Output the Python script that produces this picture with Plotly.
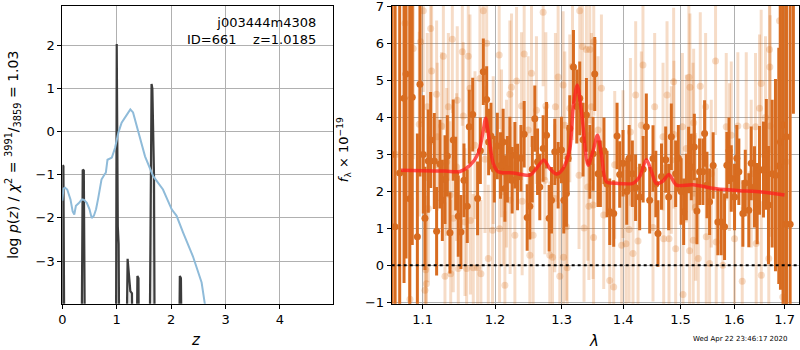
import plotly.graph_objects as go

# ---------------- left panel: redshift PDF ----------------
pz_z = [0.0, 0.005, 0.02, 0.04, 0.35, 0.375, 0.395, 0.42, 0.985, 1.0, 1.02, 1.035, 1.05,
        1.17, 1.20, 1.25, 1.28, 1.30, 1.36, 1.38, 1.40, 1.41, 1.60, 1.64, 1.655, 1.685, 1.70,
        2.14, 2.16, 2.18, 2.20, 5.0]
pz_logp = [-6, -0.78, -0.80, -6, -6, -0.88, -0.90, -6, -6, 2.04, -2.2, -2.6, -6,
           -6, -2.95, -3.70, -3.75, -6, -6, -3.35, -3.40, -6, -6, 1.11, 1.0, -1.0, -6,
           -6, -3.35, -3.40, -6, -6]

chi_z = [0.0, 0.02, 0.05, 0.09, 0.15, 0.19, 0.22, 0.25, 0.30, 0.36, 0.40, 0.45, 0.50, 0.54,
         0.58, 0.62, 0.66, 0.72, 0.78, 0.80, 0.83, 0.88, 0.91, 0.97, 1.03, 1.09, 1.18, 1.25,
         1.30, 1.40, 1.52, 1.67, 1.85, 2.01, 2.10, 2.22, 2.40, 2.56, 2.62, 2.70, 2.80]
chi_logp = [-1.60, -1.32, -1.30, -1.34, -1.57, -1.85, -1.92, -1.72, -1.66, -1.57, -1.58, -1.65,
            -1.80, -2.00, -1.95, -1.80, -1.54, -1.11, -0.98, -0.95, -0.65, -0.62, -0.60, -0.37,
            -0.02, 0.21, 0.40, 0.52, 0.45, -0.02, -0.57, -1.03, -1.34, -1.80, -1.95, -2.34,
            -2.89, -3.50, -3.97, -4.60, -5.50]

# ---------------- right panel: spectrum ----------------
dark_wave = [1.0600, 1.0640, 1.0700, 1.0756, 1.0782, 1.0830, 1.0863, 1.0930, 1.0964, 1.1008,
             1.1030, 1.1074, 1.1106, 1.1155, 1.1186, 1.1231, 1.1263, 1.1299, 1.1331, 1.1367,
             1.1412, 1.1445, 1.1481, 1.1518, 1.1560, 1.1606, 1.1634, 1.1682, 1.1751, 1.1790,
             1.1832, 1.1880, 1.1908, 1.1941, 1.1990, 1.2033, 1.2080, 1.2118, 1.2143, 1.2180,
             1.2216, 1.2250, 1.2290, 1.2329, 1.2380, 1.2428, 1.2473, 1.2513, 1.2550, 1.2588,
             1.2630, 1.2664, 1.2715, 1.2767, 1.2807, 1.2843, 1.2894, 1.2946, 1.2998, 1.3035,
             1.3076, 1.3102, 1.3129, 1.3187, 1.3240, 1.3287, 1.3340, 1.3394, 1.3450, 1.3502,
             1.3529, 1.3583, 1.3621, 1.3680, 1.3730, 1.3775, 1.3841, 1.3897, 1.3941, 1.3997,
             1.4060, 1.4100, 1.4155, 1.4210, 1.4280, 1.4340, 1.4395, 1.4453, 1.4511, 1.4560,
             1.4598, 1.4660, 1.4734, 1.4787, 1.4834, 1.4912, 1.4960, 1.5010, 1.5056, 1.5104,
             1.5146, 1.5195, 1.5250, 1.5298, 1.5347, 1.5409, 1.5440, 1.5484, 1.5533, 1.5600,
             1.5688, 1.5751, 1.5815, 1.5859, 1.5900, 1.5943, 1.6006, 1.6050, 1.6089, 1.6167,
             1.6214, 1.6283, 1.6330, 1.6395, 1.6448, 1.6494, 1.6573, 1.6630, 1.6673, 1.6747,
             1.6814, 1.6881, 1.6915, 1.6970, 1.7031, 1.7037, 1.7113, 1.7180]
dark_flux = [3.00, 1.04, 2.50, 4.52, 5.18, 1.80, 4.55, 0.77, 4.90, 3.00,
             1.27, 2.82, 3.39, 2.82, 0.92, 2.74, 1.76, 2.32, 2.96, 0.88,
             3.39, 2.48, 1.33, 0.90, 2.30, 1.60, 3.75, 4.08, 1.81, 3.10,
             5.24, 4.49, 3.34, 3.50, 2.60, 3.23, 2.70, 3.34, 2.08, 2.60,
             3.12, 2.30, 2.98, 2.39, 2.90, 3.55, 1.29, 1.60, 2.60, 3.97,
             2.80, 2.12, 3.16, 3.52, 1.27, 1.76, 3.07, 2.44, 3.12, 1.76,
             1.94, 2.90, 3.70, 5.37, 4.30, 4.52, 3.40, 4.07, 2.80, 3.02,
             5.18, 2.48, 2.48, 3.10, 2.20, 1.45, 1.40, 3.50, 2.46, 2.76,
             2.00, 2.90, 2.48, 2.10, 1.85, 2.60, 3.75, 1.76, 2.89, 2.20,
             0.86, 2.40, 2.86, 1.85, 3.48, 2.48, 2.90, 2.00, 1.45, 2.12,
             2.85, 2.66, 3.20, 1.47, 2.53, 2.53, 3.57, 2.17, 1.72, 2.70,
             1.17, 1.17, 1.04, 2.71, 3.10, 2.35, 1.85, 2.90, 2.53, 1.40,
             2.23, 1.49, 2.76, 2.12, 1.67, 2.57, 2.59, 3.00, 1.63, 2.48,
             2.44, 2.69, 3.34, 3.80, 1.11, 3.48, 1.11, 9.00]
dark_err = [8.0, 6.0, 7.0, 5.0, 5.0, 5.5, 4.0, 2.8, 2.5, 1.6,
            1.4, 1.4, 1.3, 1.3, 1.2, 1.2, 1.1, 1.2, 1.1, 1.1,
            1.1, 1.0, 1.1, 1.0, 1.0, 1.0, 1.0, 1.0, 1.0, 0.9,
            0.9, 0.9, 0.9, 0.9, 0.9, 0.9, 0.9, 0.9, 0.9, 0.9,
            0.9, 0.9, 0.9, 0.9, 0.9, 0.9, 0.9, 0.9, 0.9, 0.9,
            0.9, 0.9, 0.9, 0.9, 0.9, 0.9, 0.9, 0.9, 0.9, 0.9,
            0.9, 0.9, 0.9, 1.0, 1.0, 1.0, 1.0, 1.0, 1.0, 1.0,
            1.0, 0.9, 0.9, 0.9, 0.9, 0.9, 0.9, 0.9, 0.9, 0.9,
            0.9, 0.9, 0.9, 0.9, 0.9, 0.9, 0.9, 0.9, 0.9, 0.9,
            0.9, 0.9, 0.9, 0.9, 0.9, 0.9, 0.9, 0.9, 0.9, 0.9,
            0.9, 0.9, 0.9, 0.9, 0.9, 0.9, 0.9, 0.9, 0.9, 0.9,
            0.9, 0.9, 0.9, 0.9, 0.9, 0.9, 0.9, 0.9, 0.9, 0.9,
            0.9, 1.0, 1.0, 1.1, 1.1, 1.2, 1.3, 1.5, 1.6, 2.0,
            2.6, 3.2, 4.0, 5.0, 6.0, 6.0, 7.0, 4.9]

light_wave = [1.0650, 1.0769, 1.0833, 1.0876, 1.0955, 1.0973, 1.1008, 1.1030, 1.1040, 1.1050,
              1.1061, 1.1074, 1.1106, 1.1119, 1.1186, 1.1195, 1.1254, 1.1277, 1.1299, 1.1322,
              1.1345, 1.1367, 1.1377, 1.1399, 1.1412, 1.1458, 1.1467, 1.1481, 1.1537, 1.1551,
              1.1574, 1.1597, 1.1620, 1.1644, 1.1650, 1.1690, 1.1714, 1.1751, 1.1784, 1.1798,
              1.1832, 1.1856, 1.1880, 1.1903, 1.1964, 1.1974, 1.2060, 1.2065, 1.2094, 1.2118,
              1.2143, 1.2167, 1.2216, 1.2220, 1.2240, 1.2290, 1.2315, 1.2389, 1.2398, 1.2428,
              1.2488, 1.2513, 1.2538, 1.2563, 1.2613, 1.2715, 1.2741, 1.2756, 1.2817, 1.2859,
              1.2894, 1.2904, 1.2946, 1.2972, 1.3024, 1.3030, 1.3050, 1.3076, 1.3087, 1.3129,
              1.3172, 1.3276, 1.3287, 1.3330, 1.3356, 1.3394, 1.3418, 1.3434, 1.3448, 1.3475,
              1.3502, 1.3510, 1.3513, 1.3583, 1.3638, 1.3676, 1.3775, 1.3841, 1.3858, 1.3974,
              1.3997, 1.4047, 1.4099, 1.4122, 1.4166, 1.4212, 1.4252, 1.4309, 1.4337, 1.4511,
              1.4540, 1.4687, 1.4699, 1.4758, 1.4793, 1.4834, 1.4876, 1.4880, 1.4912, 1.5033,
              1.5044, 1.5104, 1.5151, 1.5164, 1.5170, 1.5226, 1.5230, 1.5238, 1.5274, 1.5323,
              1.5360, 1.5459, 1.5471, 1.5533, 1.5564, 1.5645, 1.5657, 1.5783, 1.5847, 1.5910,
              1.5943, 1.6006, 1.6070, 1.6155, 1.6233, 1.6330, 1.6415, 1.6428, 1.6494, 1.6527,
              1.6530, 1.6613, 1.6679, 1.6693, 1.6700, 1.6707, 1.6895, 1.6963, 1.7031]
light_flux = [3.00, 6.55, -0.92, 5.87, 3.82, 6.05, 6.89, -0.68, -0.12, -0.50,
              4.29, 1.54, 6.41, 5.26, 4.63, 3.48, 3.77, 5.66, -0.30, 2.80,
              4.29, 1.90, -0.23, 6.12, 1.27, 2.66, 4.47, -0.09, 5.78, 4.04,
              1.17, -0.09, 5.66, 4.79, 1.21, -0.07, 3.25, -0.07, 5.06, -0.23,
              6.89, 2.87, 6.01, 0.18, 0.95, 3.12, 5.69, 0.99, 3.30, 1.99,
              -0.54, 2.48, 4.63, 1.76, 4.82, 0.81, 4.99, 4.31, 1.73, 5.72,
              3.66, 0.27, 5.20, 0.81, 4.20, 6.85, 2.30, 4.31, 0.27, 0.22,
              1.81, 4.29, 5.10, -0.30, 4.88, 0.22, 3.79, 1.04, -0.07, 4.25,
              5.39, 2.44, 6.89, 5.92, 1.01, 5.84, 2.12, 1.60, 5.84, 4.29,
              1.63, 0.75, 6.05, 3.66, 4.79, 1.36, -0.41, -0.59, 2.72, 0.54,
              2.74, 0.58, 0.97, 3.61, 0.32, 4.61, 0.66, 3.79, 5.42, 1.02,
              4.29, 3.48, 0.72, 4.61, 0.72, 2.85, 4.97, 3.54, 0.45, 3.75,
              -0.79, 3.16, 5.09, 0.39, 4.82, 3.48, 0.68, 3.86, 1.58, 0.18,
              4.85, 4.29, 0.77, 0.05, 2.48, 5.53, 0.63, 0.00, 3.75, 2.93,
              3.52, 0.72, 3.77, -0.43, 3.77, 2.48, 3.75, 0.59, 4.25, 4.92,
              -0.27, 4.00, 0.18, 5.84, 5.37, 3.77, 6.62, -0.86, 2.80]
light_err = [6.0, 5.0, 4.0, 3.0, 2.5, 2.2, 2.2, 2.0, 2.0, 2.0,
             2.0, 2.0, 2.0, 2.0, 2.0, 2.0, 2.0, 2.0, 2.0, 2.0,
             2.0, 2.0, 2.0, 2.0, 2.0, 2.0, 2.0, 2.0, 2.0, 2.0,
             2.0, 2.0, 2.0, 2.0, 2.0, 2.0, 2.0, 2.0, 2.0, 2.0,
             2.0, 2.0, 2.0, 2.0, 2.0, 2.0, 2.0, 2.0, 2.0, 2.0,
             2.0, 2.0, 2.0, 2.0, 2.0, 2.0, 2.0, 2.0, 2.0, 2.0,
             2.0, 2.0, 2.0, 2.0, 2.0, 2.0, 2.0, 2.0, 2.0, 2.0,
             2.0, 2.0, 2.0, 2.0, 2.0, 2.0, 2.0, 2.0, 2.0, 2.0,
             2.0, 2.0, 2.0, 2.0, 2.0, 2.0, 2.0, 2.0, 2.0, 2.0,
             2.0, 2.0, 2.0, 2.0, 2.0, 2.0, 2.0, 2.0, 2.0, 2.0,
             2.0, 2.0, 2.0, 2.0, 2.0, 2.0, 2.0, 2.0, 2.0, 2.0,
             2.0, 2.0, 2.0, 2.0, 2.0, 2.0, 2.0, 2.0, 2.0, 2.0,
             2.0, 2.0, 2.0, 2.0, 2.0, 2.0, 2.0, 2.0, 2.0, 2.0,
             2.0, 2.0, 2.0, 2.0, 2.0, 2.0, 2.0, 2.0, 2.0, 2.0,
             2.0, 2.0, 2.0, 2.0, 2.0, 2.0, 2.0, 2.0, 2.0, 2.0,
             2.0, 2.2, 2.5, 2.8, 2.8, 3.0, 4.0, 4.0, 5.0]

model_wave = [1.0717, 1.1000, 1.1300, 1.1504, 1.1644, 1.1761, 1.1832, 1.1866, 1.1903, 1.1974,
              1.2046, 1.2265, 1.2513, 1.2613, 1.2725, 1.2817, 1.2920, 1.3024, 1.3129, 1.3182,
              1.3246, 1.3316, 1.3421, 1.3502, 1.3573, 1.3638, 1.3720, 1.3886, 1.4166, 1.4280,
              1.4395, 1.4482, 1.4569, 1.4687, 1.4793, 1.4925, 1.5226, 1.5657, 1.6103, 1.6428,
              1.6997]
model_flux = [2.57, 2.56, 2.55, 2.54, 2.71, 3.03, 3.66, 3.98, 3.57, 2.76,
              2.53, 2.50, 2.44, 2.62, 2.85, 2.62, 2.47, 2.62, 3.15, 4.25,
              4.88, 4.15, 2.71, 3.10, 3.52, 3.00, 2.26, 2.22, 2.22, 2.40,
              2.86, 2.55, 2.21, 2.28, 2.46, 2.17, 2.18, 2.07, 2.02, 2.00,
              1.90]

lam_ticks = [1.1, 1.2, 1.3, 1.4, 1.5, 1.6, 1.7]
lam_ticktext = ["1.1", "1.2", "1.3", "1.4", "1.5", "1.6", "1.7"]

FONT = "DejaVu Sans"
DARK = "#d86c20"
LIGHT = "rgba(213,94,0,0.22)"

fig = go.Figure()

# left panel
fig.add_trace(go.Scatter(x=[0, 5], y=[-10, -10], mode="lines", line=dict(width=0),
                         showlegend=False, hoverinfo="skip", xaxis="x", yaxis="y"))
fig.add_trace(go.Scatter(x=pz_z, y=pz_logp, mode="lines", fill="tonexty",
                         fillcolor="rgba(0,0,0,0.10)",
                         line=dict(color="#3c3c3c", width=2.2), showlegend=False,
                         xaxis="x", yaxis="y"))
fig.add_trace(go.Scatter(x=chi_z, y=chi_logp, mode="lines",
                         line=dict(color="#8fbbd9", width=2), showlegend=False,
                         xaxis="x", yaxis="y"))

# right panel
fig.add_trace(go.Scatter(x=light_wave, y=light_flux, mode="markers",
                         marker=dict(color=LIGHT, size=7),
                         error_y=dict(type="data", array=light_err, color=LIGHT,
                                      thickness=3, width=0),
                         showlegend=False, xaxis="x2", yaxis="y2"))
fig.add_trace(go.Scatter(x=dark_wave, y=dark_flux, mode="markers",
                         marker=dict(color=DARK, size=7),
                         error_y=dict(type="data", array=dark_err, color=DARK,
                                      thickness=3, width=0),
                         showlegend=False, xaxis="x2", yaxis="y2"))
fig.add_trace(go.Scatter(x=model_wave, y=model_flux, mode="lines",
                         line=dict(color="rgba(255,30,30,0.75)", width=3.5,
                                   shape="spline", smoothing=0.8),
                         showlegend=False, xaxis="x2", yaxis="y2"))

fig.add_shape(type="line", xref="x2 domain", yref="y2", x0=0, x1=1, y0=0, y1=0,
              line=dict(color="black", width=2, dash="dot"), layer="above")

axis_common = dict(showline=True, linecolor="black", linewidth=1, mirror=True,
                   ticks="outside", ticklen=4, tickcolor="black", automargin=False,
                   ticklabeloverflow="allow",
                   showgrid=True, gridcolor="#b0b0b0", gridwidth=1, zeroline=False,
                   tickfont=dict(family=FONT, size=13, color="black"))

ydom = [0.1324, 0.9829]
fig.update_layout(
    width=800, height=350, margin=dict(l=0, r=0, t=0, b=0),
    paper_bgcolor="white", plot_bgcolor="white",
    font=dict(family=FONT, size=13, color="black"),
    xaxis=dict(domain=[0.0779, 0.4166], range=[0, 4.98], tickvals=[0, 1, 2, 3, 4],
               anchor="y", **axis_common),
    yaxis=dict(domain=ydom, range=[-3.99, 2.92], tickvals=[-3, -2, -1, 0, 1, 2],
               anchor="x", **axis_common),
    xaxis2=dict(domain=[0.4896, 0.9991], type="log", range=[0.0252, 0.2381],
                tickvals=lam_ticks, ticktext=lam_ticktext, anchor="y2", **axis_common),
    yaxis2=dict(domain=ydom, range=[-1.04, 7.02], tickvals=list(range(-1, 8)),
                anchor="x2", **axis_common),
)

ann = [
    dict(x=0.245, y=0.028, text="<i>z</i>", font=dict(size=15)),
    dict(x=0.7425, y=0.026, text="<i>λ</i>", font=dict(size=15)),
    dict(x=0.016, y=0.557, textangle=-90,
         text="log <i>p</i>(<i>z</i>) / <i>χ</i><sup>2</sup> = <sup>3991</sup>/<sub>3859</sub> = 1.03",
         font=dict(size=14)),
    dict(x=0.430, y=0.571, textangle=-90,
         text="<i>f</i><sub>λ</sub> × 10<sup>−19</sup>", font=dict(size=13)),
    dict(x=0.3975, y=0.962, xanchor="right", yanchor="top", align="right",
         text="j003444m4308<br>ID=661\u00a0\u00a0\u00a0\u00a0z=1.0185", font=dict(size=13)),
    dict(x=0.925, y=0.031, text="Wed Apr 22 23:46:17 2020", font=dict(size=7)),
]
for a in ann:
    a.setdefault("xanchor", "center")
    a.setdefault("yanchor", "middle")
    fig.add_annotation(xref="paper", yref="paper", showarrow=False, **a)

fig.write_html("out.html", config={"displayModeBar": False},
               post_script="document.body.style.margin='0px';")
